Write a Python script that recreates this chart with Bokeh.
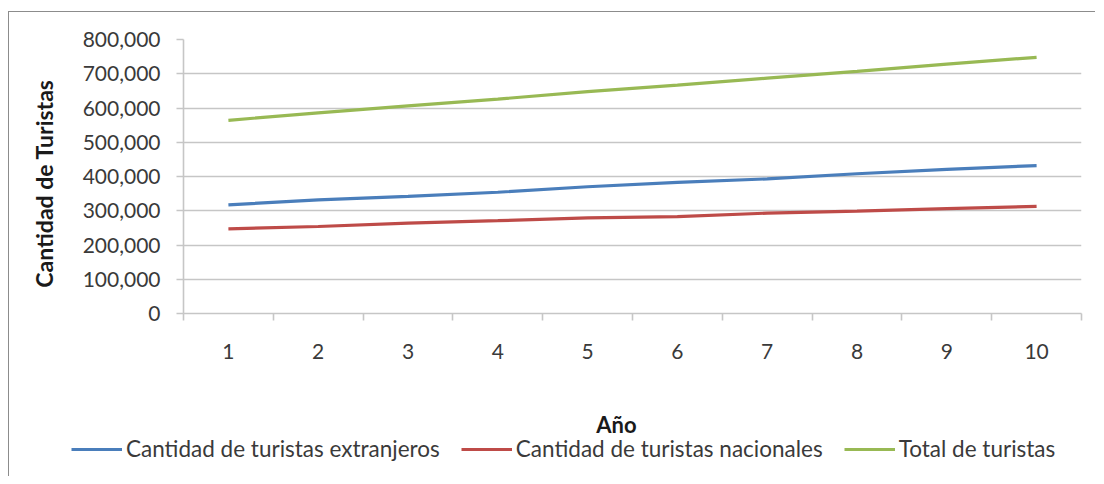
import math
from bokeh.plotting import figure
from bokeh.layouts import row, column
from bokeh.models import (ColumnDataSource, FixedTicker, NumeralTickFormatter,
                          Label, Legend, LegendItem, Range1d)
from bokeh.embed import file_html
from bokeh.resources import INLINE

# ---- data ----
years = [1, 2, 3, 4, 5, 6, 7, 8, 9, 10]
extranjeros = [317000, 332000, 342000, 354000, 370000, 383000, 393000, 408000, 421000, 432000]
nacionales = [247000, 254000, 264000, 271000, 279000, 283000, 293000, 299000, 306000, 313000]
total = [564000, 586000, 606000, 626000, 648000, 667000, 687000, 707000, 728000, 748000]
y_ticks = [0, 100000, 200000, 300000, 400000, 500000, 600000, 700000, 800000]
series_names = ["Cantidad de turistas extranjeros", "Cantidad de turistas nacionales", "Total de turistas"]
x_title = "Año"
y_title = "Cantidad de Turistas"

colors = ["#4A7EBB", "#BE4B48", "#98B954"]
FONT = "Lato"
TXT = "#3a3a3a"
TITLE_C = "#1a1a1a"
GRID = "#c6c6c6"

src = ColumnDataSource(dict(x=years, a=extranjeros, b=nacionales, t=total))

# ---------------- main chart ----------------
p = figure(width=1024, height=388, output_backend="svg", toolbar_location=None,
           x_range=Range1d(0.5, 10.5), y_range=Range1d(0, 800000),
           min_border_left=112, min_border_right=14, min_border_top=27, min_border_bottom=87)
p.outline_line_color = None
p.border_fill_color = "white"

for col, c in zip(["a", "b", "t"], colors):
    p.line("x", col, source=src, line_color=c, line_width=3.2)

p.xgrid.visible = False
p.ygrid.ticker = FixedTicker(ticks=y_ticks)
p.ygrid.grid_line_color = GRID
p.ygrid.grid_line_width = 1.6

ya = p.yaxis[0]
ya.ticker = FixedTicker(ticks=y_ticks)
ya.formatter = NumeralTickFormatter(format="0,0")
ya.axis_line_color = GRID
ya.axis_line_width = 1.6
ya.major_tick_line_color = GRID
ya.major_tick_line_width = 1.6
ya.major_tick_out = 7
ya.major_tick_in = 0
ya.minor_tick_line_color = None
ya.major_label_standoff = 16
ya.major_label_text_font = FONT
ya.major_label_text_font_size = "21px"
ya.major_label_text_color = TXT

xa = p.xaxis[0]
xa.ticker = FixedTicker(ticks=years, minor_ticks=[y - 0.5 for y in years] + [10.5])
xa.axis_line_color = GRID
xa.axis_line_width = 1.6
xa.major_tick_line_color = None
xa.major_tick_out = 0
xa.major_tick_in = 0
xa.minor_tick_line_color = GRID
xa.minor_tick_line_width = 1.6
xa.minor_tick_out = 7
xa.minor_tick_in = 0
xa.major_label_standoff = 23
xa.major_label_text_font = FONT
xa.major_label_text_font_size = "21px"
xa.major_label_text_color = TXT

# ---------------- left strip with the y title ----------------
c_fig = figure(width=62, height=388, output_backend="svg", toolbar_location=None,
               x_range=Range1d(0, 1), y_range=Range1d(0, 1),
               x_axis_location=None, y_axis_location=None, min_border=0)
c_fig.grid.visible = False
c_fig.outline_line_color = None
c_fig.add_layout(Label(x=34, y=130, x_units="screen", y_units="screen", text=y_title,
                       angle=math.pi / 2, text_align="center", text_baseline="middle",
                       text_font=FONT, text_font_style="bold", text_font_size="23px",
                       text_color=TITLE_C))

# ---------------- bottom strip: x title + legend ----------------
b_fig = figure(width=1086, height=76, output_backend="svg", toolbar_location=None,
               x_range=Range1d(0, 1), y_range=Range1d(2, 3),
               x_axis_location=None, y_axis_location=None, min_border=0)
b_fig.grid.visible = False
b_fig.outline_line_color = None
b_fig.add_layout(Label(x=607, y=52, x_units="screen", y_units="screen", text=x_title,
                       text_align="center", text_baseline="middle",
                       text_font=FONT, text_font_style="bold", text_font_size="22px",
                       text_color=TITLE_C))
lr = [b_fig.line("x", col, source=src, line_color=c, line_width=3.2, visible=False)
      for col, c in zip(["a", "b", "t"], colors)]
legend = Legend(items=[LegendItem(label=n, renderers=[r]) for n, r in zip(series_names, lr)],
                orientation="horizontal", location=(62, 14),
                padding=0, margin=0, spacing=21, label_standoff=4,
                glyph_width=51, glyph_height=20,
                inactive_fill_alpha=0,
                border_line_color=None, background_fill_alpha=0,
                label_text_font=FONT, label_text_font_size="22.5px",
                label_text_color=TXT)
b_fig.add_layout(legend, "center")

layout = column(row(c_fig, p, spacing=0), b_fig, spacing=0)
layout.styles = {"border-left": "1px solid #8c8c8c", "border-top": "1px solid #8c8c8c",
                 "margin-top": "11px", "margin-left": "8px"}

open("out.html", "w").write(file_html(layout, INLINE))
